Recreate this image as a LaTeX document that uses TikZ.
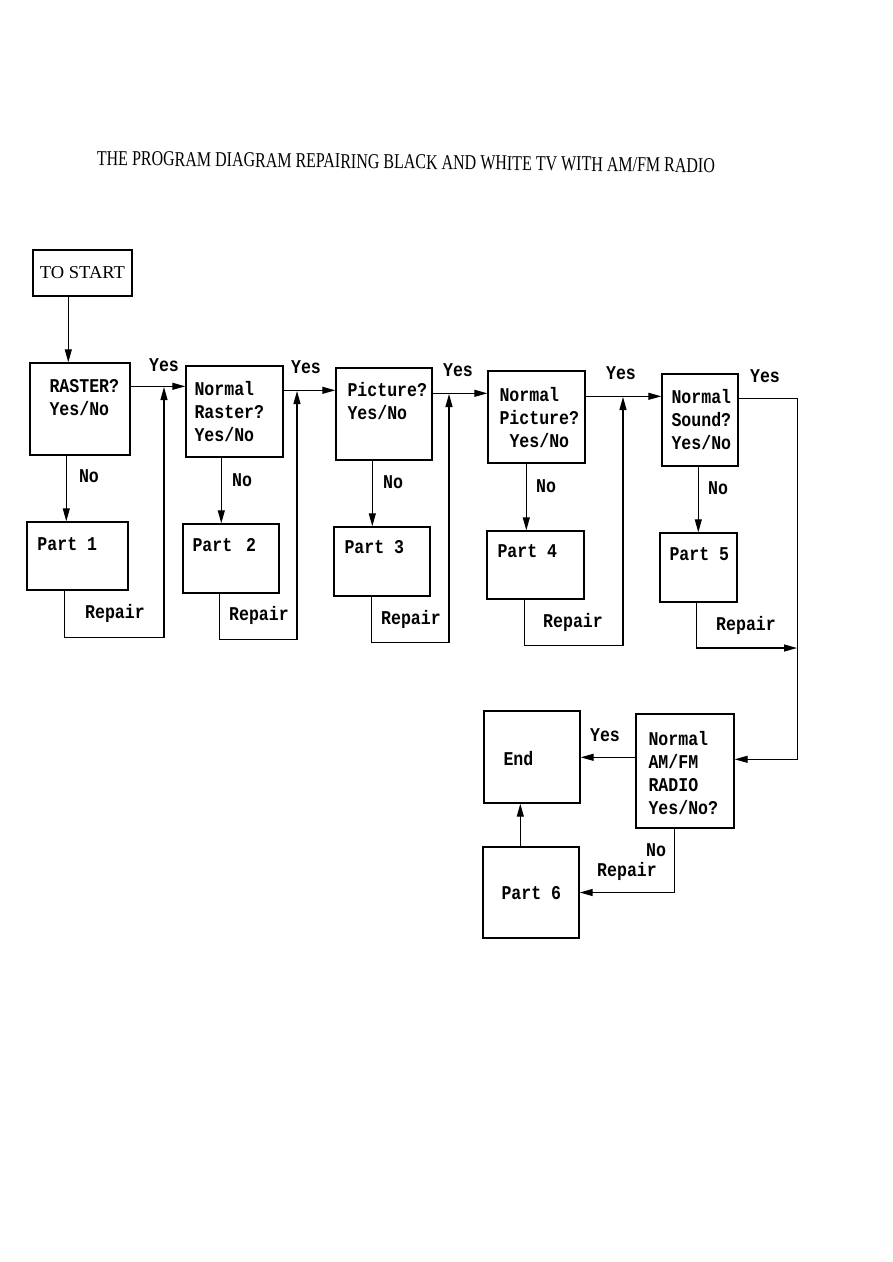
\documentclass[tikz,border=0pt]{standalone}
\usepackage{fontspec}
\usepackage{graphicx}
\usetikzlibrary{arrows.meta}
\newfontfamily\boxfont[FakeStretch=0.85]{Liberation Mono}
\newfontfamily\titlefont{Liberation Serif}

\tikzset{
  box/.style={draw, line width=1.4pt, inner sep=0pt},
  inbox/.style={anchor=north west, inner sep=0pt, align=left,
    font=\boxfont\bfseries\fontsize{19.5}{23}\selectfont},
  lbl/.style={inner sep=0pt, font=\boxfont\bfseries\fontsize{19.5}{23}\selectfont},
  arr/.style={line width=1.2pt, -{Triangle[length=13pt,width=7pt]}}
}

\begin{document}
\begin{tikzpicture}[x=1pt,y=-1pt]
\useasboundingbox (0,0) rectangle (893,1262);

\node[inner sep=0pt, rotate=-0.7, font=\titlefont] (title) at (406,162)
  {\resizebox{618pt}{14pt}{THE PROGRAM DIAGRAM REPAIRING BLACK AND WHITE TV WITH AM/FM RADIO}};

\node[box, minimum width=99pt, minimum height=46pt, font=\titlefont] (start) at (82.5,273)
  {\resizebox{85pt}{12pt}{TO START}};

% questions
\node[box, minimum width=100pt, minimum height=92pt,
  label={[inbox, xshift=20pt, yshift=-17pt]north west:{RASTER?\\Yes/No}}] (q1) at (80,409) {};
\node[box, minimum width=97pt, minimum height=91pt,
  label={[inbox, xshift=9pt, yshift=-16pt]north west:{Normal\\Raster?\\Yes/No}}] (q2) at (234.5,411.5) {};
\node[box, minimum width=96pt, minimum height=92pt,
  label={[inbox, xshift=12pt, yshift=-15pt]north west:{Picture?\\Yes/No}}] (q3) at (384,414) {};
\node[box, minimum width=97pt, minimum height=92pt,
  label={[inbox, xshift=12pt, yshift=-17pt]north west:{Normal\\Picture?\\\hspace*{10pt}Yes/No}}] (q4) at (536.5,417) {};
\node[box, minimum width=76pt, minimum height=92pt,
  label={[inbox, xshift=10pt, yshift=-16pt]north west:{Normal\\Sound?\\Yes/No}}] (q5) at (700,420) {};
\node[box, minimum width=98pt, minimum height=114pt,
  label={[inbox, xshift=13pt, yshift=-18pt]north west:{Normal\\AM/FM\\RADIO\\Yes/No?}}] (q6) at (685,771) {};
\node[box, minimum width=96pt, minimum height=92pt,
  label={[inbox, xshift=20pt, yshift=-41pt]north west:{End}}] (endbox) at (532,757) {};

% parts
\node[box, minimum width=101pt, minimum height=68pt,
  label={[inbox, xshift=11pt, yshift=-16pt]north west:{Part 1}}] (p1) at (77.5,556) {};
\node[box, minimum width=96pt, minimum height=69pt,
  label={[inbox, xshift=10pt, yshift=-15pt]north west:{Part~\hspace{4pt}2}}] (p2) at (231,558.5) {};
\node[box, minimum width=96pt, minimum height=69pt,
  label={[inbox, xshift=11pt, yshift=-14pt]north west:{Part 3}}] (p3) at (382,561.5) {};
\node[box, minimum width=97pt, minimum height=68pt,
  label={[inbox, xshift=11pt, yshift=-14pt]north west:{Part 4}}] (p4) at (535.5,565) {};
\node[box, minimum width=77pt, minimum height=69pt,
  label={[inbox, xshift=10pt, yshift=-15pt]north west:{Part 5}}] (p5) at (698.5,567.5) {};
\node[box, minimum width=96pt, minimum height=91pt,
  label={[inbox, xshift=19pt, yshift=-40pt]north west:{Part 6}}] (p6) at (531,892.5) {};

\coordinate (j1) at (164,387);
\coordinate (j2) at (297,391);
\coordinate (j3) at (449,394);
\coordinate (j4) at (623,397);
\coordinate (j5) at (797,648);

\draw[arr] ([xshift=36pt]start.south west) -- ([xshift=39pt]q1.north west);

% yes
\draw[arr] ([yshift=-24pt]q1.north east) -- ([yshift=-21pt]q2.north west);
\draw[arr] ([yshift=-25pt]q2.north east) -- ([yshift=-23pt]q3.north west);
\draw[arr] ([yshift=-26pt]q3.north east) -- ([yshift=-23pt]q4.north west);
\draw[arr] ([yshift=-26pt]q4.north east) -- ([yshift=-23pt]q5.north west);
\draw[arr] ([yshift=-25pt]q5.north east) -- ++(59,0) |- ([yshift=-46pt]q6.north east);

% no
\draw[arr] ([xshift=37pt]q1.south west) -- ([xshift=40pt]p1.north west);
\draw[arr] ([xshift=36pt]q2.south west) -- ([xshift=39pt]p2.north west);
\draw[arr] ([xshift=37pt]q3.south west) -- ([xshift=39pt]p3.north west);
\draw[arr] ([xshift=39pt]q4.south west) -- ([xshift=40pt]p4.north west);
\draw[arr] ([xshift=37pt]q5.south west) -- ([xshift=39pt]p5.north west);

% repair
\draw[arr] ([xshift=38pt]p1.south west) -- ++(0,47) -| (j1);
\draw[arr] ([xshift=37pt]p2.south west) -- ++(0,46) -| (j2);
\draw[arr] ([xshift=38pt]p3.south west) -- ++(0,46) -| (j3);
\draw[arr] ([xshift=38pt]p4.south west) -- ++(0,46) -| (j4);
\draw[arr] ([xshift=37pt]p5.south west) |- (j5);

\draw[arr] ([yshift=-44pt]q6.north west) -- ([yshift=-47pt]endbox.north east);
\draw[arr] ([xshift=39pt]q6.south west) |- (p6.east);
\draw[arr] ([xshift=38pt]p6.north west) -- ([xshift=37pt]endbox.south west);

\node[lbl] (yes1) at (164,365) {Yes};
\node[lbl] (yes2) at (306,367) {Yes};
\node[lbl] (yes3) at (458,370) {Yes};
\node[lbl] (yes4) at (621,373) {Yes};
\node[lbl] (yes5) at (765,376) {Yes};
\node[lbl] (yes6) at (605,735) {Yes};
\node[lbl] (no1) at (89,476) {No};
\node[lbl] (no2) at (242,480) {No};
\node[lbl] (no3) at (393,482) {No};
\node[lbl] (no4) at (546,486) {No};
\node[lbl] (no5) at (718,488) {No};
\node[lbl] (no6) at (656,850) {No};
\node[lbl] (rep1) at (115,613) {Repair};
\node[lbl] (rep2) at (259,615) {Repair};
\node[lbl] (rep3) at (411,619) {Repair};
\node[lbl] (rep4) at (573,622) {Repair};
\node[lbl] (rep5) at (746,625) {Repair};
\node[lbl] (rep6) at (627,871) {Repair};
\end{tikzpicture}
\end{document}
